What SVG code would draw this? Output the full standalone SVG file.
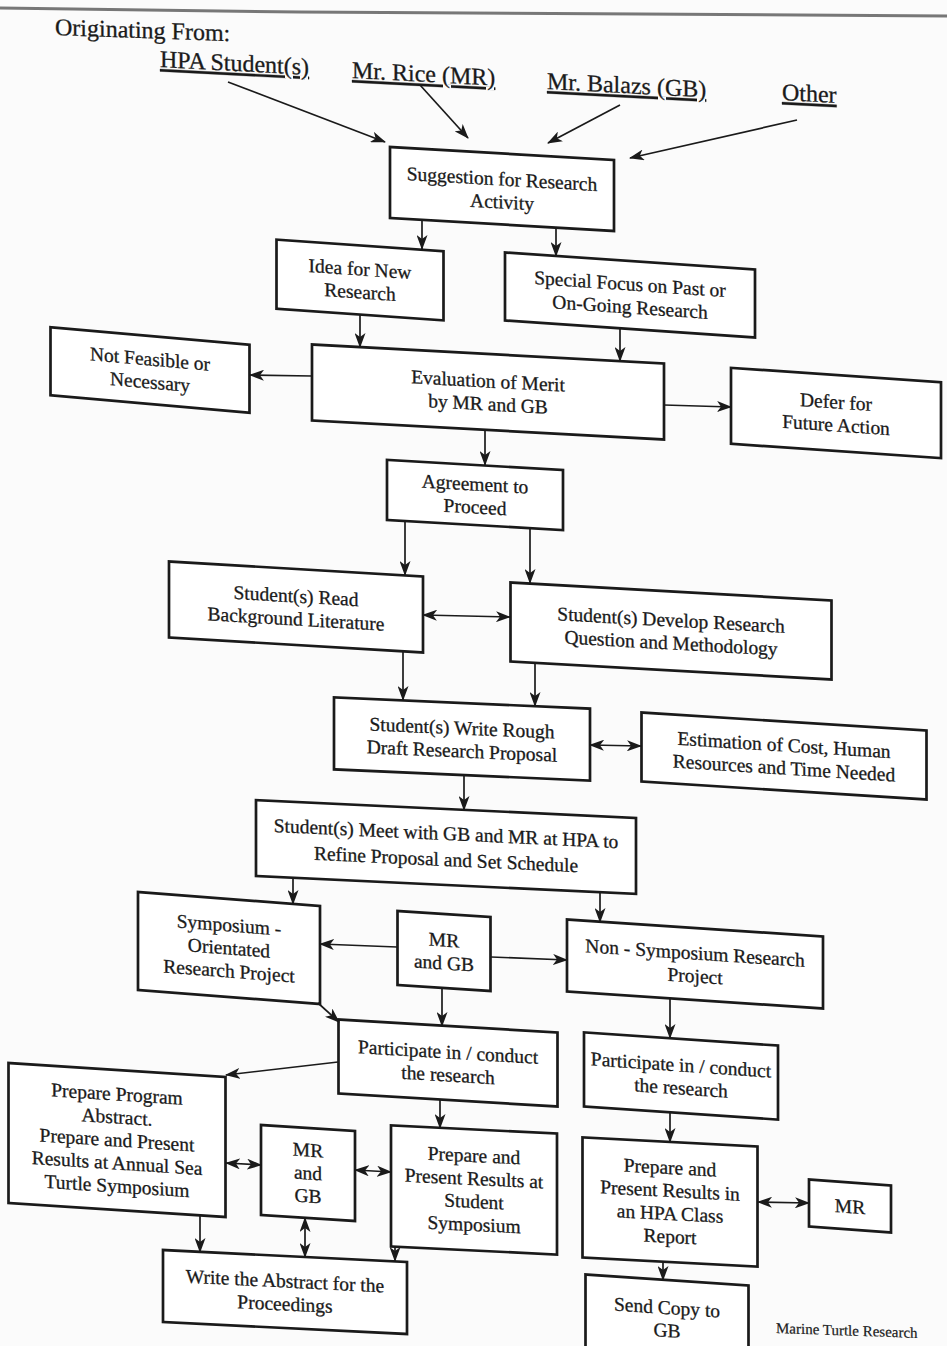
<svg xmlns="http://www.w3.org/2000/svg" width="947" height="1346" viewBox="0 0 947 1346">
<style>
.b{fill:#fff;stroke:#1a1a1a;stroke-width:2.7}
.t{font-family:"Liberation Serif","Times New Roman",serif;font-size:19.5px;fill:#1a1a1a;stroke:#1a1a1a;stroke-width:0.3;text-anchor:middle}
.h{font-family:"Liberation Serif","Times New Roman",serif;font-size:24px;fill:#1a1a1a;stroke:#1a1a1a;stroke-width:0.3}
.c{fill:none;stroke:#1a1a1a;stroke-width:1.7}
</style>
<defs>
<marker id="a" viewBox="0 0 15 11" refX="14" refY="5.5" markerWidth="15" markerHeight="11" markerUnits="userSpaceOnUse" orient="auto-start-reverse">
<path d="M0,0 L15,5.5 L0,11 L4,5.5 Z" fill="#1a1a1a"/>
</marker>
</defs>
<rect width="947" height="1346" fill="#fbfbfb"/>
<path d="M0,8 L300,12 L640,14 L947,16" stroke="#777" stroke-width="3" fill="none"/>

<g id="header">
<text class="h" transform="translate(55 35) skewY(2)">Originating From:</text>
<text class="h" transform="translate(160 67) skewY(3)" text-decoration="underline">HPA Student(s)</text>
<text class="h" transform="translate(352 78) skewY(3)" text-decoration="underline">Mr. Rice (MR)</text>
<text class="h" transform="translate(547 89) skewY(3)" text-decoration="underline">Mr. Balazs (GB)</text>
<text class="h" transform="translate(782 100) skewY(3)" text-decoration="underline">Other</text>
</g>

<g id="suggestion" transform="translate(502 189) skewY(3.3)"><rect class="b" x="-112" y="-35.5" width="224" height="71"/>
<text class="t" x="0" y="-3.5">Suggestion for Research</text><text class="t" x="0" y="19.5">Activity</text></g>
<g id="idea" transform="translate(360 280) skewY(4)"><rect class="b" x="-83.5" y="-34.5" width="167" height="69"/>
<text class="t" x="0" y="-4.5">Idea for New</text><text class="t" x="0" y="18.5">Research</text></g>
<g id="special" transform="translate(630 295) skewY(3.9)"><rect class="b" x="-125" y="-34" width="250" height="68"/>
<text class="t" x="0" y="-4.5">Special Focus on Past or</text><text class="t" x="0" y="18.5">On-Going Research</text></g>
<g id="notfeasible" transform="translate(150 370) skewY(5)"><rect class="b" x="-99.5" y="-34" width="199" height="68"/>
<text class="t" x="0" y="-4.5">Not Feasible or</text><text class="t" x="0" y="18.5">Necessary</text></g>
<g id="evaluation" transform="translate(488 392) skewY(3.1)"><rect class="b" x="-176" y="-38" width="352" height="76"/>
<text class="t" x="0" y="-4.5">Evaluation of Merit</text><text class="t" x="0" y="18.5">by MR and GB</text></g>
<g id="defer" transform="translate(836 413) skewY(3.9)"><rect class="b" x="-105" y="-38" width="210" height="76"/>
<text class="t" x="0" y="-4.5">Defer for</text><text class="t" x="0" y="18.5">Future Action</text></g>
<g id="agreement" transform="translate(475 495) skewY(3.3)"><rect class="b" x="-88" y="-30" width="176" height="60"/>
<text class="t" x="0" y="-4.5">Agreement to</text><text class="t" x="0" y="18.5">Proceed</text></g>
<g id="read" transform="translate(296 607) skewY(3.4)"><rect class="b" x="-127" y="-38" width="254" height="76"/>
<text class="t" x="0" y="-4.5">Student(s) Read</text><text class="t" x="0" y="18.5">Background Literature</text></g>
<g id="develop" transform="translate(671 631) skewY(3.2)"><rect class="b" x="-160.5" y="-39.5" width="321" height="79"/>
<text class="t" x="0" y="-4.5">Student(s) Develop Research</text><text class="t" x="0" y="18.5">Question and Methodology</text></g>
<g id="rough" transform="translate(462 739) skewY(2.5)"><rect class="b" x="-128" y="-36" width="256" height="72"/>
<text class="t" x="0" y="-4.5">Student(s) Write Rough</text><text class="t" x="0" y="18.5">Draft Research Proposal</text></g>
<g id="estimation" transform="translate(784 756) skewY(3.6)"><rect class="b" x="-142.5" y="-34.5" width="285" height="69"/>
<text class="t" x="0" y="-4.5">Estimation of Cost, Human</text><text class="t" x="0" y="18.5">Resources and Time Needed</text></g>
<g id="meet" transform="translate(446 847) skewY(2.7)"><rect class="b" x="-190" y="-38" width="380" height="76"/>
<text class="t" x="0" y="-7">Student(s) Meet with GB and MR at HPA to</text><text class="t" x="0" y="19">Refine Proposal and Set Schedule</text></g>
<g id="symposium" transform="translate(229 948) skewY(4.4)"><rect class="b" x="-91" y="-49" width="182" height="98"/>
<text class="t" x="0" y="-16.5">Symposium -</text><text class="t" x="0" y="6.5">Orientated</text><text class="t" x="0" y="29.5">Research Project</text></g>
<g id="mrgb1" transform="translate(444 951) skewY(3.7)"><rect class="b" x="-46.5" y="-37" width="93" height="74"/>
<text class="t" x="0" y="-4.5">MR</text><text class="t" x="0" y="18.5">and GB</text></g>
<g id="nonsymposium" transform="translate(695 964) skewY(3.8)"><rect class="b" x="-128" y="-36" width="256" height="72"/>
<text class="t" x="0" y="-4.5">Non - Symposium Research</text><text class="t" x="0" y="18.5">Project</text></g>
<g id="participate1" transform="translate(448 1063) skewY(3.4)"><rect class="b" x="-109.5" y="-37" width="219" height="74"/>
<text class="t" x="0" y="-4.5">Participate in / conduct</text><text class="t" x="0" y="18.5">the research</text></g>
<g id="participate2" transform="translate(681 1076) skewY(3.9)"><rect class="b" x="-97" y="-37" width="194" height="74"/>
<text class="t" x="0" y="-4.5">Participate in / conduct</text><text class="t" x="0" y="18.5">the research</text></g>
<g id="program" transform="translate(117 1140) skewY(3.7)"><rect class="b" x="-108.5" y="-70" width="217" height="140"/>
<text class="t" x="0" y="-39.5">Prepare Program</text><text class="t" x="0" y="-16.5">Abstract.</text><text class="t" x="0" y="6.5">Prepare and Present</text><text class="t" x="0" y="29.5">Results at Annual Sea</text><text class="t" x="0" y="52.5">Turtle Symposium</text></g>
<g id="mrgb2" transform="translate(308 1173) skewY(3.7)"><rect class="b" x="-47" y="-45" width="94" height="90"/>
<text class="t" x="0" y="-16.5">MR</text><text class="t" x="0" y="6.5">and</text><text class="t" x="0" y="29.5">GB</text></g>
<g id="studentsym" transform="translate(474 1190) skewY(2.8)"><rect class="b" x="-83" y="-60.5" width="166" height="121"/>
<text class="t" x="0" y="-28">Prepare and</text><text class="t" x="0" y="-5">Present Results at</text><text class="t" x="0" y="18">Student</text><text class="t" x="0" y="41">Symposium</text></g>
<g id="classreport" transform="translate(670 1202) skewY(3)"><rect class="b" x="-87.5" y="-60" width="175" height="120"/>
<text class="t" x="0" y="-28">Prepare and</text><text class="t" x="0" y="-5">Present Results in</text><text class="t" x="0" y="18">an HPA Class</text><text class="t" x="0" y="41">Report</text></g>
<g id="mr" transform="translate(850 1206) skewY(4.2)"><rect class="b" x="-41" y="-23.5" width="82" height="47"/>
<text class="t" x="0" y="7">MR</text></g>
<g id="abstract" transform="translate(285 1292) skewY(2.8)"><rect class="b" x="-122" y="-36" width="244" height="72"/>
<text class="t" x="0" y="-4.5">Write the Abstract for the</text><text class="t" x="0" y="18.5">Proceedings</text></g>
<g id="sendcopy" transform="translate(667 1320) skewY(3.9)"><rect class="b" x="-81.5" y="-40" width="163" height="80"/>
<text class="t" x="0" y="-6">Send Copy to</text><text class="t" x="0" y="17">GB</text></g>
<text transform="translate(776 1333) skewY(2)" font-family="Liberation Serif, serif" font-size="15" fill="#1a1a1a" stroke="#1a1a1a" stroke-width="0.2">Marine Turtle Research</text>

<g id="connectors">
<path class="c" marker-end="url(#a)" d="M228,82 L385,142"/>
<path class="c" marker-end="url(#a)" d="M420,85 L468,138"/>
<path class="c" marker-end="url(#a)" d="M620,105 L548,143"/>
<path class="c" marker-end="url(#a)" d="M797,120 L630,158"/>
<path class="c" marker-end="url(#a)" d="M422,220 L422,249"/>
<path class="c" marker-end="url(#a)" d="M556,228 L556,256"/>
<path class="c" marker-end="url(#a)" d="M360,315 L360,347"/>
<path class="c" marker-end="url(#a)" d="M620,329 L620,361"/>
<path class="c" marker-end="url(#a)" d="M312,376 L250,375"/>
<path class="c" marker-end="url(#a)" d="M664,405 L731,407"/>
<path class="c" marker-end="url(#a)" d="M485,430 L485,465"/>
<path class="c" marker-end="url(#a)" d="M405,521 L405,575"/>
<path class="c" marker-end="url(#a)" d="M530,528 L530,583"/>
<path class="c" marker-start="url(#a)" marker-end="url(#a)" d="M423,615 L510,617"/>
<path class="c" marker-end="url(#a)" d="M403,651 L403,700"/>
<path class="c" marker-end="url(#a)" d="M535,663 L535,706"/>
<path class="c" marker-start="url(#a)" marker-end="url(#a)" d="M590,745 L641,746"/>
<path class="c" marker-end="url(#a)" d="M464,775 L464,810"/>
<path class="c" marker-end="url(#a)" d="M293,878 L293,904"/>
<path class="c" marker-end="url(#a)" d="M600,892 L600,922"/>
<path class="c" marker-end="url(#a)" d="M397,947 L320,944"/>
<path class="c" marker-end="url(#a)" d="M491,957 L567,960"/>
<path class="c" marker-end="url(#a)" d="M442,988 L442,1026"/>
<path class="c" marker-end="url(#a)" d="M318,1003 L339,1022"/>
<path class="c" marker-end="url(#a)" d="M670,998 L670,1038"/>
<path class="c" marker-end="url(#a)" d="M338,1062 L226,1075"/>
<path class="c" marker-end="url(#a)" d="M440,1100 L440,1128"/>
<path class="c" marker-start="url(#a)" marker-end="url(#a)" d="M226,1163 L261,1165"/>
<path class="c" marker-start="url(#a)" marker-end="url(#a)" d="M355,1170 L391,1172"/>
<path class="c" marker-end="url(#a)" d="M200,1215 L200,1252"/>
<path class="c" marker-start="url(#a)" marker-end="url(#a)" d="M305,1218 L305,1257"/>
<path class="c" marker-end="url(#a)" d="M395,1246 L395,1261"/>
<path class="c" marker-end="url(#a)" d="M670,1112 L670,1142"/>
<path class="c" marker-start="url(#a)" marker-end="url(#a)" d="M758,1202 L809,1203"/>
<path class="c" marker-end="url(#a)" d="M663,1262 L663,1280"/>
</g>
</svg>
